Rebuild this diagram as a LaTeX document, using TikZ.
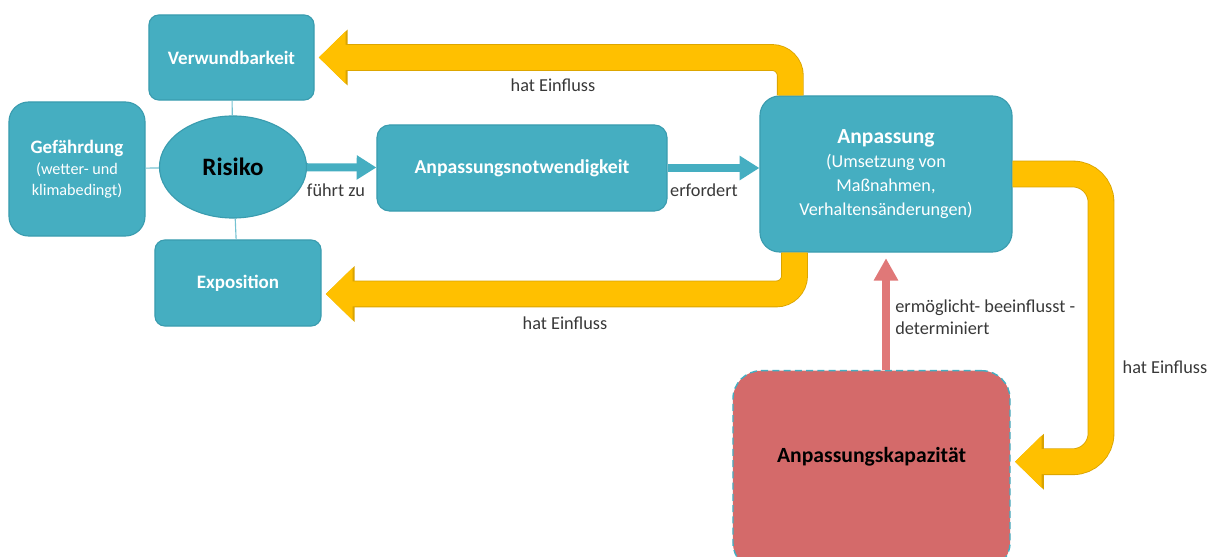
\documentclass[tikz,border=0pt]{standalone}
\usepackage{fontspec}
\setmainfont{Carlito}
\usepackage{xcolor}
\usetikzlibrary{shapes.geometric,arrows.meta}

\definecolor{boxteal}{HTML}{45AEC1}
\definecolor{edgeteal}{HTML}{3A9CAF}
\definecolor{arrowgold}{HTML}{FFC000}
\definecolor{edgegold}{HTML}{D9A300}
\definecolor{kapred}{HTML}{D46A6A}
\definecolor{arrowred}{HTML}{E07878}
\definecolor{labelgrey}{HTML}{383838}

\newcommand{\subsmall}{\fontsize{11.5}{14}\selectfont\mdseries}
\newcommand{\sublarge}{\fontsize{12.9}{15.6}\selectfont\mdseries}

\begin{document}
\begin{tikzpicture}[x=0.025cm,y=-0.025cm,
    tbox/.style={draw=edgeteal,line width=0.8pt,fill=boxteal,text=white,align=center,inner sep=2pt,font=\fontsize{13.5}{15}\selectfont\bfseries},
    lbl/.style={text=labelgrey,font=\fontsize{13}{15.6}\selectfont,inner sep=0pt},
    spoke/.style={draw=boxteal!75,line width=0.8pt},
    tarrow/.style={draw=boxteal,line width=5.7pt,-{Triangle[length=14pt,width=16.5pt]}},
    rarrow/.style={draw=arrowred,line width=5.5pt,-{Triangle[length=16pt,width=16.5pt]}},
    yarrow/.style={draw=arrowgold,line width=17.8pt,rounded corners=13pt,shorten >=3pt,
      -{Triangle[length=19pt,width=36pt]},
      preaction={draw=edgegold,line width=19pt,-{Triangle[length=20.5pt,width=38.5pt]}}}]

  \useasboundingbox (0,0) rectangle (1212,557);

  \node[tbox,rounded corners=7pt,minimum width=4.125cm,minimum height=2.125cm] (verw) at (231.5,57.5) {Verwundbarkeit};
  \node[tbox,rounded corners=14pt,minimum width=3.4cm,minimum height=3.35cm] (gef) at (77,169)
    {Gefährdung\\{\subsmall (wetter- und}\\{\subsmall klimabedingt)}};
  \node[tbox,rounded corners=7pt,minimum width=4.15cm,minimum height=2.15cm] (expo) at (238,283) {Exposition};
  \node[ellipse,draw=edgeteal,line width=0.8pt,fill=boxteal,minimum width=3.675cm,minimum height=2.55cm,inner sep=0pt,
    font=\fontsize{17.8}{20}\selectfont\bfseries] (risk) at (233,167) {Risiko};
  \node[tbox,rounded corners=9pt,minimum width=7.25cm,minimum height=2.15cm,font=\fontsize{14}{16}\selectfont\bfseries] (notw) at (522,168) {Anpassungsnotwendigkeit};
  \node[tbox,rounded corners=14pt,minimum width=6.3cm,minimum height=3.9cm,font=\fontsize{15.3}{17}\selectfont\bfseries] (anp) at (886,174)
    {Anpassung\\{\sublarge (Umsetzung von}\\{\sublarge Maßnahmen,}\\{\sublarge Verhaltensänderungen)}};
  \node[draw=boxteal,line width=1pt,dash pattern=on 5pt off 3pt,fill=kapred,rounded corners=20pt,
    minimum width=6.925cm,minimum height=5cm,text depth=22pt,anchor=north,
    font=\fontsize{15.4}{17}\selectfont\bfseries] (kap) at (871.5,370) {Anpassungskapazität};

  \draw[spoke] (risk) -- (verw);
  \draw[spoke] (risk) -- (gef);
  \draw[spoke] (risk) -- (expo);

  \draw[tarrow] (risk) -- (notw);
  \draw[tarrow] (notw.east) -- (notw.east -| anp.west);
  \draw[rarrow,shorten >=4pt] (kap.north -| anp.south) -- (anp.south);

  \draw[yarrow] ([xshift=22pt]anp.north west) |- (verw.east);
  \draw[yarrow] ([xshift=25pt]anp.south west) |- ([yshift=-7.8pt]expo.east);
  \draw[yarrow,rounded corners=20pt] (anp.east) -| (1101,300) |- ([yshift=6.4pt]kap.east);

  \node[lbl] (inf1) at (553,85) {hat Einfluss};
  \node[lbl] (inf2) at (565,323) {hat Einfluss};
  \node[lbl] (inf3) at (1165,367) {hat Einfluss};
  \node[lbl] (fz) at (336,190) {führt zu};
  \node[lbl] (erf) at (704,190) {erfordert};
  \node[lbl,anchor=west,align=left] (erm) at (895,317) {ermöglicht- beeinflusst -\\determiniert};
\end{tikzpicture}
\end{document}
